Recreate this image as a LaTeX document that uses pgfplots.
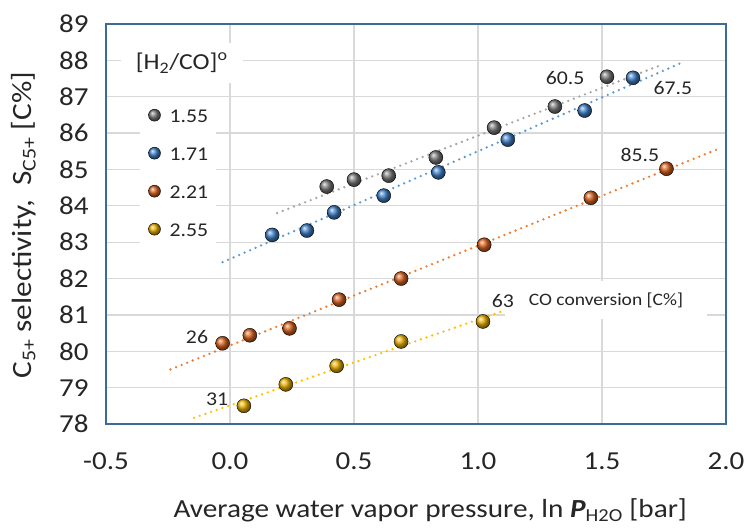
\documentclass[border=0pt]{standalone}
\usepackage{fontspec}
\setmainfont{Carlito}[FakeStretch=1.12]
\usepackage{pgfplots}
\pgfplotsset{compat=1.18}

\definecolor{frameblue}{HTML}{3D6B99}
\definecolor{gridgray}{HTML}{D9D9D9}
\definecolor{txt}{HTML}{262626}
\definecolor{mgray}{HTML}{7A7A7A}
\definecolor{mblue}{HTML}{3F80C8}
\definecolor{morange}{HTML}{D8621E}
\definecolor{myellow}{HTML}{E8AE00}
\definecolor{lgray}{HTML}{A6A6A6}
\definecolor{lblue}{HTML}{5B9BD5}
\definecolor{lorange}{HTML}{ED7D31}
\definecolor{lyellow}{HTML}{FFC000}

\pgfplotstableread{
x y
0.39 84.53
0.50 84.72
0.64 84.83
0.83 85.33
1.065 86.15
1.31 86.73
1.52 87.55
}\graydata
\pgfplotstableread{
x y
0.17 83.20
0.31 83.32
0.42 83.82
0.62 84.28
0.84 84.92
1.12 85.82
1.43 86.62
1.625 87.52
}\bluedata
\pgfplotstableread{
x y
-0.03 80.22
0.08 80.44
0.24 80.63
0.44 81.42
0.69 82.00
1.025 82.93
1.455 84.22
1.76 85.02
}\orangedata
\pgfplotstableread{
x y
0.056 78.50
0.225 79.09
0.43 79.60
0.69 80.27
1.02 80.82
}\yellowdata

\begin{document}
\begin{tikzpicture}
\useasboundingbox (-106bp,-105bp) rectangle (639bp,424bp);
\begin{axis}[
    scale only axis,
    width=620bp, height=400bp,
    xmin=-0.5, xmax=2.0,
    ymin=78, ymax=89,
    xtick={-0.5,0,0.5,1,1.5,2},
    ytick={78,79,...,89},
    xticklabel style={/pgf/number format/fixed, /pgf/number format/fixed zerofill, /pgf/number format/precision=1, yshift=-25bp},
    yticklabel style={xshift=-14bp},
    /pgf/number format/assume math mode=true,
    tick label style={font=\fontsize{26}{30}\selectfont, text=txt},
    major tick length=0pt,
    grid=major,
    major grid style={gridgray, line width=1.2bp},
    axis line style={frameblue, line width=1.6bp},
    xlabel={Average water vapor pressure, ln \textbf{\textit{P}}\textsubscript{H2O} [bar]},
    ylabel={C\textsubscript{5+} selectivity,\ \ S\textsubscript{C5+} [C\%]},
    xlabel style={at={(axis description cs:0.523,-0.217)}, anchor=center,
        font=\fontsize{26.2}{30}\selectfont, text=txt},
    ylabel style={at={(axis description cs:-0.133,0.497)}, anchor=center,
        font=\fontsize{28}{32}\selectfont, text=txt},
    trend/.style={line width=2.6bp, dash pattern=on 0pt off 6bp, line cap=round, forget plot},
    legend style={at={(axis description cs:0.055,0.815)}, anchor=north west,
        draw=none, fill=white, font=\fontsize{19.5}{24}\selectfont, text=txt,
        nodes={inner sep=0pt, text height=14bp, text depth=0pt},
        row sep=24bp, column sep=9bp, inner xsep=8bp, inner ysep=10bp},
    legend image post style={mark size=6bp},
    legend cell align=left,
]
\addplot[trend, lgray] coordinates {(0.19,83.8) (1.73,87.85)};
\addplot[trend, lblue] coordinates {(-0.03,82.45) (1.82,87.93)};
\addplot[trend, lorange] coordinates {(-0.24,79.5) (1.96,85.54)};
\addplot[trend, lyellow] coordinates {(-0.145,78.17) (1.14,81.2)};

\addplot[only marks, mark=ball, mark size=7bp, ball color=mgray] table {\graydata};
\addlegendentry{1.55}
\addplot[only marks, mark=ball, mark size=7bp, ball color=mblue] table {\bluedata};
\addlegendentry{1.71}
\addplot[only marks, mark=ball, mark size=7bp, ball color=morange] table {\orangedata};
\addlegendentry{2.21}
\addplot[only marks, mark=ball, mark size=7bp, ball color=myellow] table {\yellowdata};
\addlegendentry{2.55}

\node[fill=white, minimum width=122bp, minimum height=40bp, font=\fontsize{23}{27}\selectfont, text=txt]
    at (axis cs:-0.195,87.92) {[H\textsubscript{2}/CO]\textsuperscript{o}};
\node[fill=white, minimum width=202bp, minimum height=38bp, font=\fontsize{17.5}{21}\selectfont, text=txt]
    at (axis cs:1.516,81.4) {CO conversion [C\%]};
\begin{scope}[every node/.style={font=\fontsize{19.5}{24}\selectfont, text=txt}]
\node at (axis cs:1.351,87.52) {60.5};
\node at (axis cs:1.786,87.25) {67.5};
\node at (axis cs:1.653,85.41) {85.5};
\node at (axis cs:1.10,81.37) {63};
\node at (axis cs:-0.133,80.39) {26};
\node at (axis cs:-0.052,78.68) {31};
\end{scope}
\end{axis}
\end{tikzpicture}
\end{document}
